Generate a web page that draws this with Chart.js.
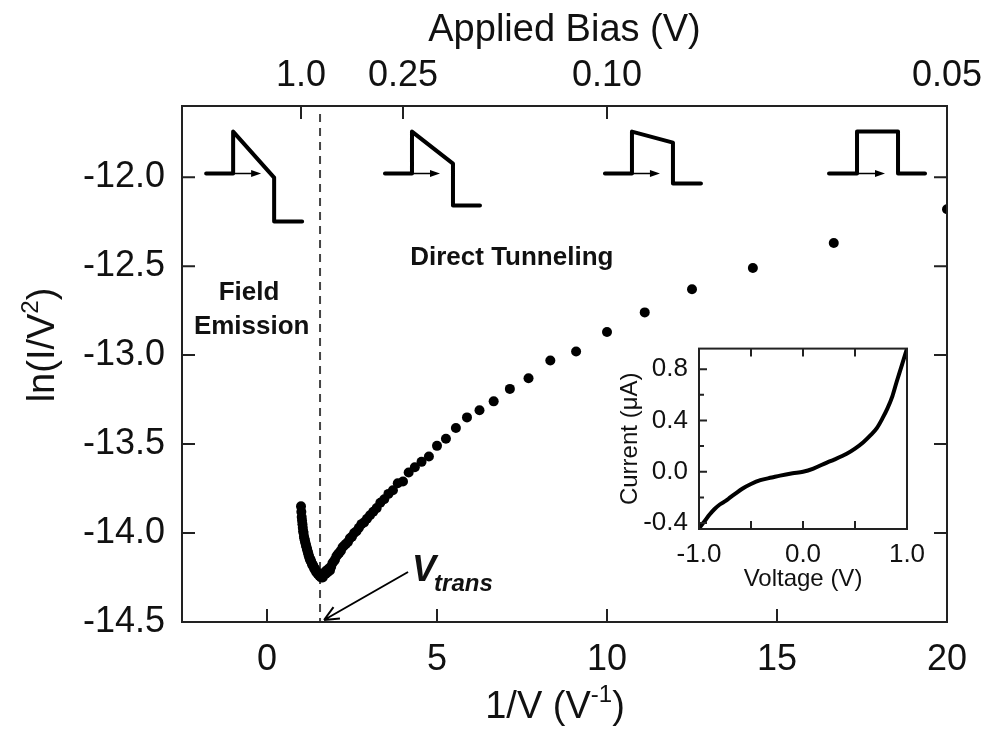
<!DOCTYPE html>
<html>
<head>
<meta charset="utf-8">
<script src="https://cdn.jsdelivr.net/npm/chart.js@4.4.1/dist/chart.umd.min.js"></script>
<style>
  html, body { margin: 0; padding: 0; background: #fff; }
  #wrap { position: relative; width: 988px; height: 742px; }
  #main { position: absolute; left: 0; top: 0; }
  #inset { position: absolute; left: 600px; top: 330px; }
</style>
</head>
<body>
<div id="wrap">
  <canvas id="main" width="988" height="742"></canvas>
  <canvas id="inset" width="340" height="270"></canvas>
</div>
<script>
// main plot: 1/V (V^-1) vs ln(I/V^2)
const invV = [
  1.000, 1.010, 1.020, 1.031, 1.042, 1.053, 1.064, 1.075, 1.087, 1.099,
  1.111, 1.124, 1.136, 1.149, 1.163, 1.176, 1.190, 1.205, 1.220, 1.235,
  1.250, 1.266, 1.282, 1.299, 1.316, 1.333, 1.351, 1.370, 1.389, 1.408,
  1.429, 1.449, 1.471, 1.493, 1.515, 1.538, 1.563, 1.587, 1.613, 1.639,
  1.667, 1.695, 1.724, 1.754, 1.786, 1.818, 1.852, 1.887, 1.923, 1.961,
  2.000, 2.041, 2.083, 2.128, 2.174, 2.222, 2.273, 2.326, 2.381, 2.439,
  2.500, 2.564, 2.632, 2.703, 2.778, 2.857, 2.941, 3.030, 3.125, 3.226,
  3.333, 3.448, 3.571, 3.704, 3.846, 4.000, 4.167, 4.348, 4.545, 4.762,
  5.000, 5.263, 5.556, 5.882, 6.250, 6.667, 7.143, 7.692, 8.333, 9.091,
  10.00, 11.11, 12.50, 14.29, 16.67, 20.00
];
const lnIV2 = [
  -13.85, -13.88, -13.91, -13.93, -13.95, -13.97, -13.99, -14.00, -14.02, -14.03,
  -14.04, -14.05, -14.06, -14.07, -14.08, -14.09, -14.10, -14.11, -14.12, -14.13,
  -14.14, -14.15, -14.15, -14.16, -14.17, -14.18, -14.18, -14.19, -14.20, -14.20,
  -14.21, -14.22, -14.22, -14.23, -14.23, -14.24, -14.24, -14.25, -14.24, -14.25,
  -14.23, -14.22, -14.23, -14.21, -14.22, -14.20, -14.21, -14.19, -14.17, -14.16,
  -14.15, -14.13, -14.12, -14.11, -14.10, -14.08, -14.07, -14.06, -14.05, -14.03,
  -14.02, -14.00, -13.99, -13.97, -13.95, -13.94, -13.92, -13.90, -13.88, -13.86,
  -13.83, -13.81, -13.78, -13.76, -13.72, -13.71, -13.66, -13.63, -13.60, -13.57,
  -13.51, -13.47, -13.41, -13.35, -13.31, -13.26, -13.19, -13.13, -13.03, -12.98,
  -12.87, -12.76, -12.63, -12.51, -12.37, -12.18
];
const xTicks = [0, 5, 10, 15, 20];
const yTicks = [-14.5, -14.0, -13.5, -13.0, -12.5, -12.0];
const biasTickPos = [1, 4, 10, 20];
const biasTickLabels = ["1.0", "0.25", "0.10", "0.05"];
const vTrans = 1.56;

// inset: I-V curve
const ivVoltage = [-1.00, -0.95, -0.90, -0.85, -0.80, -0.74, -0.70, -0.65, -0.58, -0.50,
  -0.41, -0.30, -0.22, -0.10, 0.00, 0.10, 0.23, 0.30, 0.42, 0.50,
  0.58, 0.65, 0.71, 0.76, 0.81, 0.86, 0.90, 0.95, 1.00];
const ivCurrent = [-0.44, -0.39, -0.335, -0.29, -0.255, -0.225, -0.20, -0.17, -0.13, -0.095,
  -0.065, -0.045, -0.03, -0.012, 0.00, 0.025, 0.072, 0.095, 0.14, 0.18,
  0.23, 0.285, 0.34, 0.41, 0.49, 0.59, 0.70, 0.83, 0.96];
const insetXTicks = [-1, 0, 1];
const insetXMarks = [-0.5, 0, 0.5];
const insetYTicks = [-0.4, 0.0, 0.4, 0.8];
const insetYMinor = [-0.2, 0.2, 0.6];

const FONT = "'Liberation Sans', Arial, Helvetica, sans-serif";
const INK = "#111";

// text with superscript pieces, centred on (x, y)
function drawParts(ctx, parts, x, y, size) {
  const w = parts.map(p => {
    ctx.font = (p.sup ? Math.round(size * 0.62) : size) + "px " + FONT;
    return ctx.measureText(p.t).width;
  });
  let cx = x - w.reduce((a, b) => a + b, 0) / 2;
  ctx.textAlign = "left";
  ctx.textBaseline = "alphabetic";
  parts.forEach((p, i) => {
    ctx.font = (p.sup ? Math.round(size * 0.62) : size) + "px " + FONT;
    ctx.fillText(p.t, cx, p.sup ? y - size * 0.42 : y);
    cx += w[i];
  });
}

// small energy diagrams at the top: anchor in data units, outline in pixels
const diagrams = [
  { x: -1.79, y: -11.98, path: [[0, 0], [27, 0], [27, -42], [68, 4], [68, 48], [96, 48]] },
  { x: 3.47, y: -11.98, path: [[0, 0], [27, 0], [27, -42], [68, -10], [68, 32], [95, 32]] },
  { x: 9.94, y: -11.98, path: [[0, 0], [27, 0], [27, -42], [68, -31], [68, 10], [96, 10]] },
  { x: 16.53, y: -11.98, path: [[0, 0], [28, 0], [28, -42], [69, -42], [69, 0], [96, 0]] }
];

const mainDecor = {
  id: "mainDecor",
  beforeDatasetsDraw(chart) {
    const { ctx, chartArea: a, scales } = chart;
    const px = scales.x.getPixelForValue(vTrans);
    ctx.save();
    ctx.strokeStyle = "#444";
    ctx.lineWidth = 2;
    ctx.setLineDash([8, 6]);
    ctx.beginPath();
    ctx.moveTo(px, a.top + 8);
    ctx.lineTo(px, a.bottom);
    ctx.stroke();
    ctx.restore();
  },
  afterDraw(chart) {
    const { ctx, chartArea: a, scales } = chart;
    const X = v => scales.x.getPixelForValue(v);
    const Y = v => scales.y.getPixelForValue(v);
    ctx.save();
    // frame + inward ticks
    ctx.strokeStyle = "#222";
    ctx.lineWidth = 2;
    ctx.strokeRect(a.left, a.top, a.right - a.left, a.bottom - a.top);
    ctx.beginPath();
    xTicks.forEach(v => { ctx.moveTo(X(v), a.bottom); ctx.lineTo(X(v), a.bottom - 13); });
    biasTickPos.forEach(v => { ctx.moveTo(X(v), a.top); ctx.lineTo(X(v), a.top + 13); });
    yTicks.forEach(v => {
      ctx.moveTo(a.left, Y(v)); ctx.lineTo(a.left + 13, Y(v));
      ctx.moveTo(a.right, Y(v)); ctx.lineTo(a.right - 13, Y(v));
    });
    ctx.stroke();

    // axis titles
    ctx.fillStyle = INK;
    ctx.font = "38px " + FONT;
    ctx.textAlign = "center";
    ctx.textBaseline = "middle";
    ctx.fillText("Applied Bias (V)", (a.left + a.right) / 2, 31);
    drawParts(ctx, [{ t: "1/V (V" }, { t: "-1", sup: true }, { t: ")" }], 555, 718, 38);
    ctx.save();
    ctx.translate(54, 345);
    ctx.rotate(-Math.PI / 2);
    drawParts(ctx, [{ t: "ln(I/V" }, { t: "2", sup: true }, { t: ")" }], 0, 0, 38);
    ctx.restore();

    // energy diagrams
    ctx.lineCap = "round";
    ctx.lineJoin = "round";
    diagrams.forEach(d => {
      const ox = X(d.x), oy = Y(d.y);
      ctx.strokeStyle = "#000";
      ctx.lineWidth = 4;
      ctx.beginPath();
      d.path.forEach((p, i) => i ? ctx.lineTo(ox + p[0], oy + p[1]) : ctx.moveTo(ox + p[0], oy + p[1]));
      ctx.stroke();
      const sx = ox + d.path[1][0];
      ctx.lineWidth = 1.5;
      ctx.beginPath();
      ctx.moveTo(sx, oy); ctx.lineTo(sx + 20, oy);
      ctx.stroke();
      ctx.fillStyle = "#000";
      ctx.beginPath();
      ctx.moveTo(sx + 28, oy); ctx.lineTo(sx + 18, oy - 3.5); ctx.lineTo(sx + 18, oy + 3.5);
      ctx.closePath(); ctx.fill();
    });

    // region labels
    ctx.fillStyle = INK;
    ctx.font = "bold 26px " + FONT;
    ctx.textAlign = "center";
    ctx.textBaseline = "middle";
    ctx.fillText("Field", X(-0.53), Y(-12.65));
    ctx.fillText("Emission", X(-0.45), Y(-12.84));
    ctx.fillText("Direct Tunneling", X(7.2), Y(-12.455));

    // V_trans label and arrow
    const tipX = X(vTrans) + 4, tipY = a.bottom - 2;
    const tailX = tipX + 84, tailY = tipY - 48;
    ctx.strokeStyle = "#000";
    ctx.lineWidth = 2;
    ctx.lineCap = "butt";
    ctx.beginPath();
    ctx.moveTo(tailX, tailY); ctx.lineTo(tipX, tipY);
    const ang = Math.atan2(tailY - tipY, tailX - tipX);
    [0.42, -0.42].forEach(d => {
      ctx.moveTo(tipX, tipY);
      ctx.lineTo(tipX + 16 * Math.cos(ang + d), tipY + 16 * Math.sin(ang + d));
    });
    ctx.stroke();
    ctx.textAlign = "left";
    ctx.textBaseline = "alphabetic";
    ctx.font = "italic bold 36px " + FONT;
    ctx.fillText("V", tailX + 4, 581);
    const vw = ctx.measureText("V").width;
    ctx.font = "italic bold 24px " + FONT;
    ctx.fillText("trans", tailX + 2 + vw, 591);
    ctx.restore();
  }
};

new Chart(document.getElementById("main").getContext("2d"), {
  type: "scatter",
  data: {
    datasets: [{
      data: invV.map((v, i) => ({ x: v, y: lnIV2[i] })),
      backgroundColor: "#000",
      borderWidth: 0,
      pointRadius: 5,
      pointHoverRadius: 5
    }]
  },
  options: {
    responsive: false,
    animation: false,
    devicePixelRatio: 1,
    layout: { padding: { left: 0, right: 41, top: 0, bottom: 0 } },
    plugins: { legend: { display: false }, tooltip: { enabled: false } },
    scales: {
      x: {
        type: "linear", position: "bottom", min: -2.5, max: 20,
        grid: { display: false }, border: { display: false },
        afterBuildTicks: s => { s.ticks = xTicks.map(v => ({ value: v })); },
        afterFit: s => { s.height = 120; },
        ticks: { color: INK, font: { family: FONT, size: 36 }, padding: 8, maxRotation: 0, autoSkip: false }
      },
      xTop: {
        type: "linear", position: "top", min: -2.5, max: 20,
        grid: { display: false }, border: { display: false },
        afterBuildTicks: s => { s.ticks = biasTickPos.map(v => ({ value: v })); },
        afterFit: s => { s.height = 106; },
        ticks: {
          color: INK, font: { family: FONT, size: 36 }, padding: 0, maxRotation: 0, autoSkip: false,
          callback: (v, i) => biasTickLabels[i]
        }
      },
      y: {
        type: "linear", min: -14.5, max: -11.6,
        grid: { display: false }, border: { display: false },
        afterBuildTicks: s => { s.ticks = yTicks.map(v => ({ value: v })); },
        afterFit: s => { s.width = 182; },
        ticks: { color: INK, font: { family: FONT, size: 36 }, padding: 9, callback: v => v.toFixed(1) }
      }
    }
  },
  plugins: [mainDecor]
});

const insetDecor = {
  id: "insetDecor",
  afterDraw(chart) {
    const { ctx, chartArea: a, scales } = chart;
    const X = v => scales.x.getPixelForValue(v);
    const Y = v => scales.y.getPixelForValue(v);
    ctx.save();
    ctx.strokeStyle = "#222";
    ctx.lineWidth = 2;
    ctx.strokeRect(a.left, a.top, a.right - a.left, a.bottom - a.top);
    ctx.beginPath();
    insetXMarks.forEach(v => {
      ctx.moveTo(X(v), a.bottom); ctx.lineTo(X(v), a.bottom - 8);
      ctx.moveTo(X(v), a.top); ctx.lineTo(X(v), a.top + 8);
    });
    insetYTicks.forEach(v => { ctx.moveTo(a.left, Y(v)); ctx.lineTo(a.left + 8, Y(v)); });
    insetYMinor.forEach(v => { ctx.moveTo(a.left, Y(v)); ctx.lineTo(a.left + 5, Y(v)); });
    ctx.stroke();
    ctx.fillStyle = INK;
    ctx.font = "24px " + FONT;
    ctx.textAlign = "center";
    ctx.textBaseline = "middle";
    ctx.fillText("Voltage (V)", (a.left + a.right) / 2, 249);
    ctx.translate(30, (a.top + a.bottom) / 2);
    ctx.rotate(-Math.PI / 2);
    ctx.fillText("Current (\u03bcA)", 0, 0);
    ctx.restore();
  }
};

new Chart(document.getElementById("inset").getContext("2d"), {
  type: "scatter",
  data: {
    datasets: [{
      data: ivVoltage.map((v, i) => ({ x: v, y: ivCurrent[i] })),
      showLine: true,
      borderColor: "#000",
      borderWidth: 4,
      pointRadius: 0,
      cubicInterpolationMode: "monotone"
    }]
  },
  options: {
    responsive: false,
    animation: false,
    devicePixelRatio: 1,
    layout: { padding: { left: 0, right: 33, top: 16, bottom: 0 } },
    plugins: { legend: { display: false }, tooltip: { enabled: false } },
    scales: {
      x: {
        type: "linear", min: -1, max: 1,
        grid: { display: false }, border: { display: false },
        afterBuildTicks: s => { s.ticks = insetXTicks.map(v => ({ value: v })); },
        afterFit: s => { s.height = 71; },
        ticks: { color: INK, font: { family: FONT, size: 26 }, padding: 2, maxRotation: 0, autoSkip: false, callback: v => v.toFixed(1) }
      },
      y: {
        type: "linear", min: -0.446, max: 0.96,
        grid: { display: false }, border: { display: false },
        afterBuildTicks: s => { s.ticks = insetYTicks.map(v => ({ value: v })); },
        afterFit: s => { s.width = 99; },
        ticks: { color: INK, font: { family: FONT, size: 26 }, padding: 3, callback: v => v.toFixed(1) }
      }
    }
  },
  plugins: [insetDecor]
});
</script>
</body>
</html>
